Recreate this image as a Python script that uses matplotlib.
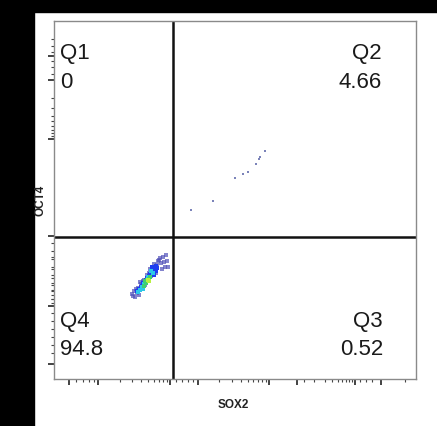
import numpy as np
import matplotlib
matplotlib.use('Agg')
import matplotlib.pyplot as plt
from matplotlib.patches import Rectangle

# axis units are plot-area pixel offsets
x_range = 362
y_range = 358
gate_x = 119
gate_y = 142

# quadrant labels / percentages
quad_names = ['Q1', 'Q2', 'Q3', 'Q4']
quad_values = ['0', '4.66', '0.52', '94.8']

# double positive events (Q2)
q2_x = [137, 159, 181, 189, 194, 202, 205, 206, 211]
q2_y = [169, 178, 201, 205, 207, 215, 220, 222, 228]

# main population (Q4), grouped by density level
sparse_x = [79, 81, 78, 83, 80, 85, 84, 88, 87, 91, 90, 94, 93, 97, 99, 101, 96, 103, 104, 107, 109, 112, 113, 111, 114, 108, 106, 100, 102, 86, 110, 105, 82, 89, 95]
sparse_y = [83, 82, 85, 86, 88, 84, 91, 90, 95, 94, 99, 100, 104, 103, 108, 112, 110, 114, 118, 116, 122, 124, 118, 112, 112, 110, 121, 115, 106, 97, 117, 119, 90, 98, 106]
blue_x = [83, 85, 87, 89, 91, 93, 95, 97, 99, 101, 98, 102, 100, 92, 88, 100, 102, 99, 96, 103]
blue_y = [88, 90, 92, 96, 97, 101, 103, 106, 110, 109, 112, 113, 104, 99, 93, 107, 108, 105, 105, 111]
cyan_x = [86, 90, 94, 97, 99, 88, 89, 84]
cyan_y = [89, 95, 102, 108, 106, 92, 90, 87]
green_x = [91, 93, 95, 96, 92, 90]
green_y = [98, 99, 100, 102, 96, 93]
yellow_x = [94, 95]
yellow_y = [99, 98]

# tick positions (same units)
x_major = [15, 44, 116, 144, 215, 243, 301, 327]
y_major = [323, 299, 240, 143, 73, 15]

# Step 1: figure, white with the black frame strips on the left and top
fig = plt.figure(figsize=(4.37, 4.27), dpi=100)
fig.patch.set_facecolor('white')
fig.patches.append(Rectangle((0, 0), 34 / 437, 1, transform=fig.transFigure, color='black', zorder=-5))
fig.patches.append(Rectangle((0, 1 - 13 / 427), 1, 13 / 427, transform=fig.transFigure, color='black', zorder=-5))

ax = fig.add_axes([54 / 437, 1 - 380 / 427, 362 / 437, 358 / 427])
ax.set_facecolor('white')
ax.set_xlim(0, x_range)
ax.set_ylim(0, y_range)

# Step 2: events
ax.scatter(q2_x, q2_y, s=3.5, marker='s', color='#5a64a8', alpha=0.8, linewidths=0)
ax.scatter(sparse_x, sparse_y, s=5, marker='s', color='#5050b8', alpha=0.7, linewidths=0)
ax.scatter(blue_x, blue_y, s=7, marker='s', color='#1f3cf0', linewidths=0)
ax.scatter(cyan_x, cyan_y, s=7, marker='s', color='#2cc8e8', linewidths=0)
ax.scatter(green_x, green_y, s=7, marker='s', color='#40d070', linewidths=0)
ax.scatter(yellow_x, yellow_y, s=7, marker='s', color='#b8f040', linewidths=0)

# Step 3: quadrant gate
ax.axvline(gate_x, color='#111111', lw=1.8)
ax.axhline(gate_y, color='#111111', lw=1.8)

# Step 4: quadrant text
txt = dict(fontsize=16, family='Liberation Sans', color='#1a1a1a', va='center')
ax.text(6, 327, quad_names[0], ha='left', **txt)
ax.text(6, 297, quad_values[0], ha='left', **txt)
ax.text(328, 327, quad_names[1], ha='right', **txt)
ax.text(328, 297, quad_values[1], ha='right', **txt)
ax.text(329, 58, quad_names[2], ha='right', **txt)
ax.text(329, 30, quad_values[2], ha='right', **txt)
ax.text(6, 58, quad_names[3], ha='left', **txt)
ax.text(6, 30, quad_values[3], ha='left', **txt)

# Step 5: ticks (log-like minor ticks between majors)
def minors(a, b):
    return [a + (b - a) * np.log10(k) for k in range(2, 10)]

x_minor = minors(44, 116) + minors(144, 215) + minors(243, 301) + [22, 29, 35, 40, 122, 128, 134, 139, 250, 306, 312, 318, 351]
y_minor = minors(299, 240) + minors(143, 73) + [340, 333, 327, 318, 312, 305, 136, 128, 120, 112, 104, 96, 88, 80, 66, 58, 50, 42, 34, 26]
ax.set_xticks(x_major)
ax.set_yticks(y_major)
ax.set_xticks(x_minor, minor=True)
ax.set_yticks(y_minor, minor=True)
ax.set_xticklabels([])
ax.set_yticklabels([])
ax.tick_params(which='major', direction='out', length=4, width=1.2, color='#222222')
ax.tick_params(which='minor', direction='out', length=2, width=0.8, color='#444444')

for s in ax.spines.values():
    s.set_color('#8a8a8a')
    s.set_linewidth(1.0)

# Step 6: axis labels
lab = dict(fontsize=8.5, fontweight='bold', family='Liberation Sans', color='#222222', ha='center', va='center')
fig.text(233 / 437, 1 - 405 / 427, 'SOX2', **lab)
fig.text(41 / 437, 1 - 200 / 427, 'OCT4', rotation=90, **lab)

fig.savefig('out.png', dpi=100)
print("saved out.png")
